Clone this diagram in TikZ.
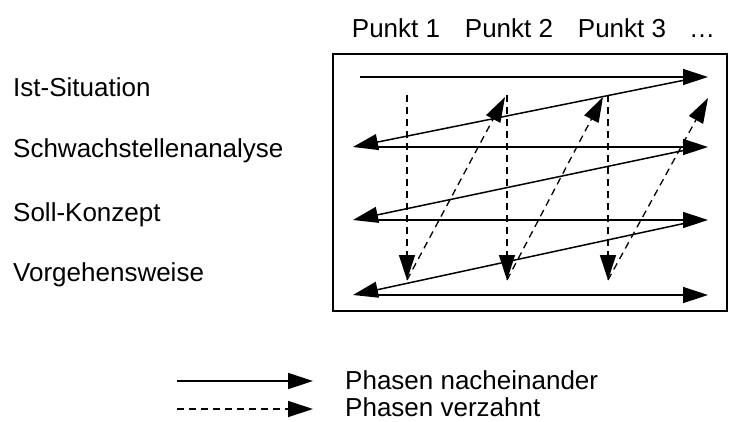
\documentclass[tikz,border=0pt]{standalone}
\usepackage{fontspec}
\setmainfont{Liberation Sans}
\usetikzlibrary{arrows.meta}
\begin{document}
\begin{tikzpicture}[x=1pt,y=-1pt,
  lbl/.style={font=\fontsize{26}{30}\selectfont, inner sep=0pt},
  solidarrow/.style={line width=1.5pt, -{Triangle[length=25pt,width=16pt]}},
  dasharrow/.style={line width=1.3pt, dash pattern=on 7pt off 5pt, -{Triangle[length=25pt,width=16pt]}},
  framebox/.style={draw, line width=1.3pt}]
\useasboundingbox (0,0) rectangle (740,421);
% frame
\draw[framebox] (333,54) rectangle (727,311);
% labels
\node[lbl, anchor=base west] (ist) at (13,96) {Ist-Situation};
\node[lbl, anchor=base west] (schw) at (13,157) {Schwachstellenanalyse};
\node[lbl, anchor=base west] (soll) at (13,221) {Soll-Konzept};
\node[lbl, anchor=base west] (vorg) at (13,281) {Vorgehensweise};
\node[lbl, anchor=base] (p1) at (396,37) {Punkt 1};
\node[lbl, anchor=base] (p2) at (509,37) {Punkt 2};
\node[lbl, anchor=base] (p3) at (622,37) {Punkt 3};
\node[lbl, anchor=base] (pd) at (702,37) {…};
% row coordinates
\coordinate (r1l) at (360,77);  \coordinate (r1r) at (708,77);
\coordinate (r2l) at (353,147); \coordinate (r2r) at (708,147);
\coordinate (r3l) at (353,220); \coordinate (r3r) at (708,220);
\coordinate (r4l) at (353,295); \coordinate (r4r) at (708,295);
\coordinate (d1s) at (700,77);  \coordinate (d2s) at (700,147); \coordinate (d3s) at (700,220);
% horizontal arrows
\draw[solidarrow] (r1l) -- (r1r);
\draw[solidarrow] ([xshift=7pt]r2l) -- (r2r);
\draw[solidarrow] ([xshift=7pt]r3l) -- (r3r);
\draw[solidarrow] ([xshift=7pt]r4l) -- (r4r);
% diagonal back arrows
\draw[solidarrow] (d1s) -- (r2l);
\draw[solidarrow] (d2s) -- (r3l);
\draw[solidarrow] (d3s) -- (r4l);
% dashed verticals
\coordinate (v1t) at (407,95);  \coordinate (v1b) at (407,280);
\coordinate (v2t) at (507,95);  \coordinate (v2b) at (507,280);
\coordinate (v3t) at (608,95);  \coordinate (v3b) at (608,280);
\coordinate (u1) at (505,97); \coordinate (u2) at (603,97); \coordinate (u3) at (708,98);
\draw[dasharrow] (v1t) -- (v1b);
\draw[dasharrow] (v2t) -- (v2b);
\draw[dasharrow] (v3t) -- (v3b);
\draw[dasharrow] (v1b) -- (u1);
\draw[dasharrow] (v2b) -- (u2);
\draw[dasharrow] (v3b) -- (u3);
% legend
\node[lbl, anchor=base west] (lg1) at (345,389) {Phasen nacheinander};
\node[lbl, anchor=base west] (lg2) at (345,416) {Phasen verzahnt};
\coordinate (l1s) at (177,381); \coordinate (l1e) at (313,381);
\coordinate (l2s) at (177,409); \coordinate (l2e) at (313,409);
\draw[solidarrow] (l1s) -- (l1e);
\draw[dasharrow] (l2s) -- (l2e);
\end{tikzpicture}
\end{document}
